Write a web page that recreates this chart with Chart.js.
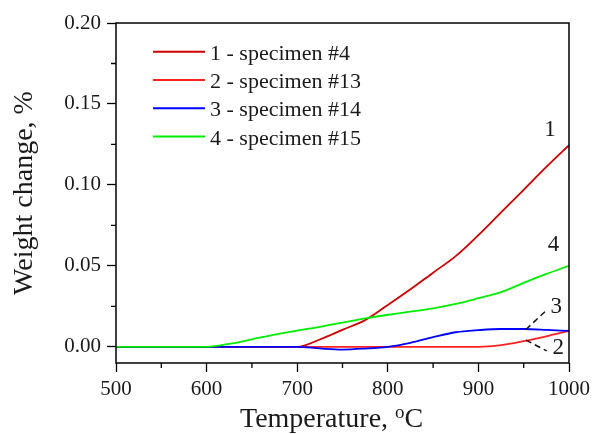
<!DOCTYPE html>
<html><head><meta charset="utf-8">
<script src="https://cdn.jsdelivr.net/npm/chart.js@4/dist/chart.umd.min.js"></script>
<style>html,body{margin:0;padding:0;background:#fff}</style>
</head><body>
<canvas id="c" width="592" height="434"></canvas>
<script>
// ---- data ----
const temps = [500,525,550,575,600,625,650,675,700,725,750,775,800,825,850,875,900,925,950,975,1000];
const spec4  = [0,0,0,0,0,0,0,0,0,0.0045,0.0105,0.0165,0.0258,0.0355,0.0458,0.0560,0.0690,0.0830,0.0970,0.1111,0.1245];
const spec13 = [0,0,0,0,0,0,0,0,0,0,0,0,0,0,0,0,0,0.0010,0.0035,0.0065,0.0098];
const spec14 = [0,0,0,0,0,0,0,0,0,-0.0010,-0.0017,-0.0011,0,0.0025,0.0060,0.0090,0.0103,0.0110,0.0110,0.0105,0.0098];
const spec15 = [0,0,0,0,0,0.0018,0.0046,0.0075,0.0100,0.0123,0.0150,0.0175,0.0198,0.0217,0.0238,0.0265,0.0300,0.0338,0.0395,0.0450,0.0500];
const seriesNames  = ['1 - specimen #4','2 - specimen #13','3 - specimen #14','4 - specimen #15'];
const seriesColors = ['#cc0000','#ff2020','#0000ff','#00ee00'];
const yMajorTicks = [0,0.05,0.10,0.15,0.20];
const yMinorTicks = [0.025,0.075,0.125,0.175];
const xMajorTicks = [500,600,700,800,900,1000];
const xMinorTicks = [550,650,750,850,950];
const curveLabels = [
  {text:'1', x:979, y:0.134},
  {text:'4', x:983, y:0.063},
  {text:'3', x:986, y:0.0247},
  {text:'2', x:988, y:-0.001}
];
const leaders = [
  [[952.5,0.0107],[975.4,0.0227]],
  [[952.5,0.0041],[975.4,-0.0025]]
];

const FONT = "'Liberation Serif','Times New Roman',serif";
const TXT = '#1a1a1a';

function pts(vals){ return temps.map((t,i)=>({x:t,y:vals[i]})); }
const allSeries = [spec4, spec13, spec14, spec15];

const decor = {
  id:'decor',
  afterDraw(chart){
    const {ctx, chartArea:a, scales:{x,y}} = chart;
    ctx.save();
    ctx.strokeStyle = '#000'; ctx.lineWidth = 1.5;
    ctx.strokeRect(a.left, a.top, a.right-a.left, a.bottom-a.top);
    ctx.lineWidth = 1.3;
    ctx.beginPath();
    yMinorTicks.forEach(v=>{const p=y.getPixelForValue(v); ctx.moveTo(a.left-5,p); ctx.lineTo(a.left,p);});
    xMinorTicks.forEach(v=>{const p=x.getPixelForValue(v); ctx.moveTo(p,a.bottom); ctx.lineTo(p,a.bottom+5);});
    ctx.stroke();
    // legend
    ctx.font = '22px ' + FONT; ctx.fillStyle = TXT; ctx.textBaseline='alphabetic'; ctx.textAlign='left';
    seriesNames.forEach((n,i)=>{
      const ly = a.top + 28.7 + i*28.3;
      ctx.strokeStyle = seriesColors[i]; ctx.lineWidth = 2;
      ctx.beginPath(); ctx.moveTo(a.left+37, ly); ctx.lineTo(a.left+89, ly); ctx.stroke();
      ctx.fillText(n, a.left+94, ly+8);
    });
    // curve labels
    ctx.font = '23px ' + FONT; ctx.textAlign='center'; ctx.textBaseline='middle';
    curveLabels.forEach(l=>ctx.fillText(l.text, x.getPixelForValue(l.x), y.getPixelForValue(l.y)));
    // leaders
    ctx.strokeStyle = '#111'; ctx.lineWidth = 1.5; ctx.setLineDash([6,4]);
    leaders.forEach(seg=>{
      ctx.beginPath();
      ctx.moveTo(x.getPixelForValue(seg[0][0]), y.getPixelForValue(seg[0][1]));
      ctx.lineTo(x.getPixelForValue(seg[1][0]), y.getPixelForValue(seg[1][1]));
      ctx.stroke();
    });
    ctx.setLineDash([]);
    // x title with superscript
    const base = a.bottom + 64;
    let tx = a.left + 124;
    ctx.textAlign='left'; ctx.textBaseline='alphabetic';
    ctx.font = '28px ' + FONT;
    const t1 = 'Temperature, ';
    ctx.fillText(t1, tx, base); tx += ctx.measureText(t1).width;
    ctx.font = '19px ' + FONT;
    ctx.fillText('o', tx, base-9); tx += ctx.measureText('o').width;
    ctx.font = '28px ' + FONT;
    ctx.fillText('C', tx, base);
    ctx.restore();
  }
};

new Chart(document.getElementById('c'), {
  type:'line',
  data:{
    datasets: allSeries.map((s,i)=>({
      label: seriesNames[i], data: pts(s), borderColor: seriesColors[i],
      borderWidth: 1.8, pointRadius:0, fill:false, order: 3-i,
      cubicInterpolationMode:'monotone'
    }))
  },
  options:{
    responsive:false, animation:false, devicePixelRatio:1,
    layout:{padding:{top:23,right:23,left:0,bottom:0}},
    plugins:{legend:{display:false}, tooltip:{enabled:false}},
    scales:{
      x:{
        type:'linear', min:500, max:1000,
        afterBuildTicks:s=>{s.ticks = xMajorTicks.map(v=>({value:v}));},
        afterFit:s=>{s.height = 71; s.paddingLeft = 0; s.paddingRight = 0;},
        grid:{drawOnChartArea:false, tickLength:9, tickColor:'#000', tickWidth:1.3},
        border:{display:false},
        ticks:{font:{family:FONT,size:21}, color:TXT, padding:5, maxRotation:0, autoSkip:false, callback:v=>String(v)},
        title:{display:false}
      },
      y:{
        type:'linear', min:-0.01, max:0.20,
        afterBuildTicks:s=>{s.ticks = yMajorTicks.map(v=>({value:v}));},
        afterFit:s=>{s.width = 116; s.paddingTop = 0; s.paddingBottom = 0;},
        grid:{drawOnChartArea:false, tickLength:9, tickColor:'#000', tickWidth:1.3},
        border:{display:false},
        ticks:{font:{family:FONT,size:21}, color:TXT, padding:6, callback:v=>v.toFixed(2)},
        title:{display:true, text:'Weight change, %', font:{family:FONT,size:28}, color:TXT, padding:{top:8,bottom:0}}
      }
    }
  },
  plugins:[decor]
});
</script>
</body></html>
